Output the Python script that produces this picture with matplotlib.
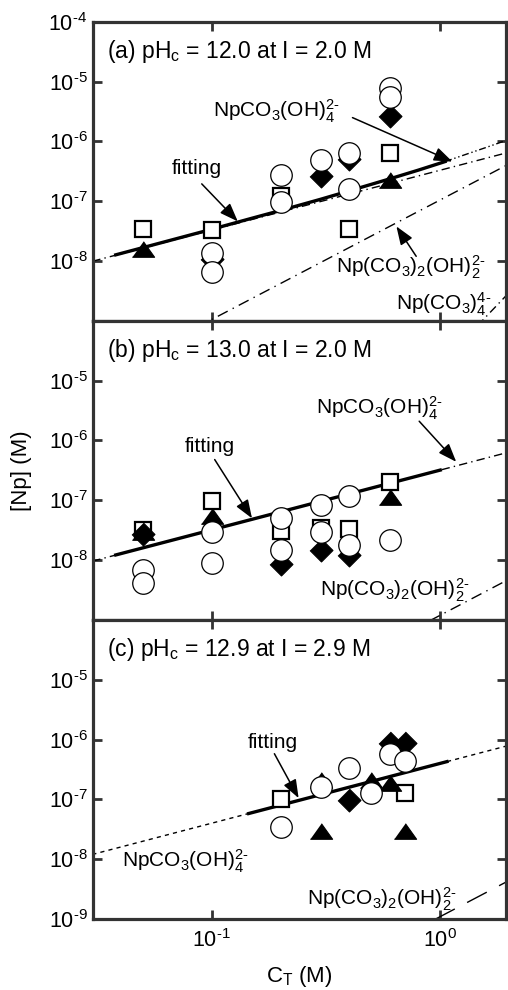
import math
import matplotlib
matplotlib.use('Agg')
import matplotlib.pyplot as plt
from matplotlib.ticker import FixedLocator, NullLocator, FuncFormatter

plt.rcParams['font.family'] = ['Liberation Sans', 'DejaVu Sans']
plt.rcParams['mathtext.fontset'] = 'custom'
plt.rcParams['mathtext.rm'] = 'Liberation Sans'
plt.rcParams['mathtext.it'] = 'Liberation Sans'
plt.rcParams['mathtext.bf'] = 'Liberation Sans:bold'
plt.rcParams['mathtext.sf'] = 'Liberation Sans'

# (a) pHc = 12.0, I = 2.0 M
a_sq_ct = [0.05, 0.1, 0.2, 0.4, 0.6]
a_sq_np = [3.4e-8, 3.3e-8, 1.2e-7, 3.4e-8, 6.3e-7]
a_tri_ct = [0.05, 0.6]
a_tri_np = [1.6e-8, 2.3e-7]
a_dia_ct = [0.1, 0.3, 0.4, 0.6]
a_dia_np = [1.07e-8, 2.6e-7, 5.0e-7, 2.7e-6]
a_cir_ct = [0.1, 0.1, 0.2, 0.2, 0.3, 0.4, 0.4, 0.6, 0.6]
a_cir_np = [1.35e-8, 6.6e-9, 2.75e-7, 9.8e-8, 4.8e-7, 6.3e-7, 1.6e-7, 7.7e-6, 5.5e-6]

# (b) pHc = 13.0, I = 2.0 M
b_sq_ct = [0.05, 0.1, 0.2, 0.3, 0.4, 0.6]
b_sq_np = [3.2e-8, 9.8e-8, 3.1e-8, 3.5e-8, 3.3e-8, 2.0e-7]
b_tri_ct = [0.05, 0.1, 0.6]
b_tri_np = [3.0e-8, 5.5e-8, 1.15e-7]
b_dia_ct = [0.05, 0.2, 0.3, 0.4]
b_dia_np = [2.7e-8, 8.5e-9, 1.5e-8, 1.2e-8]
b_cir_ct = [0.05, 0.05, 0.1, 0.1, 0.2, 0.2, 0.3, 0.3, 0.4, 0.4, 0.6]
b_cir_np = [6.8e-9, 4.1e-9, 3.0e-8, 8.9e-9, 5.1e-8, 1.5e-8, 8.3e-8, 3.0e-8, 1.2e-7, 1.8e-8, 2.2e-8]

# (c) pHc = 12.9, I = 2.9 M
c_sq_ct = [0.2, 0.7]
c_sq_np = [1.0e-7, 1.3e-7]
c_tri_ct = [0.3, 0.3, 0.5, 0.6, 0.7]
c_tri_np = [3.0e-8, 2.1e-7, 2.1e-7, 1.9e-7, 3.0e-8]
c_dia_ct = [0.4, 0.6, 0.7]
c_dia_np = [9.6e-8, 8.9e-7, 8.9e-7]
c_cir_ct = [0.2, 0.3, 0.4, 0.5, 0.6, 0.7]
c_cir_np = [3.4e-8, 1.6e-7, 3.3e-7, 1.26e-7, 5.8e-7, 4.4e-7]

# model curves
line_ct = [0.03, 2.0]
a_mono = [9.9e-9, 6.6e-7]
a_bis = [9.5e-11, 4.2e-7]
a_tetra_ct = [1.0, 2.0]
a_tetra = [1.85e-10, 2.96e-9]
a_fit_ct = [0.038, 0.06, 0.1, 0.15, 0.2, 0.3, 0.4, 0.6, 0.8, 1.05]
a_fit_np = [1.27e-8, 2.02e-8, 3.4e-8, 5.2e-8, 7.0e-8, 1.08e-7, 1.49e-7, 2.36e-7, 3.3e-7, 4.6e-7]
a_fit_ext_ct = [1.05, 1.3, 1.6, 2.0]
a_fit_ext_np = [4.6e-7, 6.1e-7, 8.0e-7, 1.08e-6]

b_mono = [9.6e-9, 6.4e-7]
b_fit_ct = [0.038, 1.0]
b_fit_np = [1.22e-8, 3.2e-7]
b_bis_ct = [0.9, 2.0]
b_bis = [9.7e-10, 4.8e-9]

c_mono = [1.2e-8, 8.0e-7]
c_fit_ct = [0.145, 1.07]
c_fit_np = [5.8e-8, 4.28e-7]
c_bis_ct = [0.95, 2.0]
c_bis = [9.9e-10, 4.4e-9]

ink = '#333333'
tri = [(-1, -0.7), (1, -0.7), (0, 0.7)]
dia = [(0, 1), (1, 0), (0, -1), (-1, 0)]
hy = '\u2010'  # short hyphen for charges / exponents

mono_lbl = r'NpCO$_3$(OH)$_4^{2%s}$' % hy
bis_lbl = r'Np(CO$_3$)$_2$(OH)$_2^{2%s}$' % hy
tetra_lbl = r'Np(CO$_3$)$_4^{4%s}$' % hy


def points(ax, sq, tr, di, ci):
    ax.plot(*sq, ls='none', marker='s', ms=12, mfc='white', mec='black', mew=1.6, zorder=3)
    ax.plot(*tr, ls='none', marker=tri, ms=16, mfc='black', mec='black', mew=0.8, zorder=4)
    ax.plot(*di, ls='none', marker=dia, ms=16.5, mfc='black', mec='black', mew=0.8, zorder=4)
    ax.plot(*ci, ls='none', marker='o', ms=15.5, mfc='white', mec='black', mew=0.9, zorder=5)


def arrow(ax, tail, tip):
    ax.annotate('', xy=tip, xytext=tail,
                arrowprops=dict(arrowstyle='-|>,head_length=0.8,head_width=0.3',
                                color='black', lw=1.1, mutation_scale=14,
                                shrinkA=0, shrinkB=0), zorder=6)


fig, axes = plt.subplots(3, 1, figsize=(5.08, 9.90), dpi=100, sharex=True)
fig.subplots_adjust(left=0.183, right=0.996, top=0.978, bottom=0.0717, hspace=0)
ax_a, ax_b, ax_c = axes

# panel (a)
ax_a.plot(line_ct, a_mono, color='black', lw=1.0, ls=(0, (6, 3, 1, 3)), zorder=2)
ax_a.plot(line_ct, a_bis, color='black', lw=1.0, ls=(0, (8, 4, 1, 4)), zorder=2)
ax_a.plot(a_tetra_ct, a_tetra, color='black', lw=1.0, ls=(0, (6, 3, 1, 3)), zorder=2)
ax_a.plot(a_fit_ct, a_fit_np, color='black', lw=2.4, zorder=2)
ax_a.plot(a_fit_ext_ct, a_fit_ext_np, color='black', lw=1.0, ls=(0, (5, 2, 1, 2, 1, 2)), zorder=2)
points(ax_a, (a_sq_ct, a_sq_np), (a_tri_ct, a_tri_np), (a_dia_ct, a_dia_np), (a_cir_ct, a_cir_np))
ax_a.text(0.034, 0.88, r'(a) pH$_\mathregular{c}$ = 12.0 at I = 2.0 M', transform=ax_a.transAxes,
          fontsize=16.5, va='baseline', ha='left')
ax_a.text(0.101, 2.5e-6, mono_lbl, fontsize=15, va='baseline')
arrow(ax_a, (0.413, 2.5e-6), (1.13, 4.6e-7))
ax_a.text(0.0668, 2.87e-7, 'fitting', fontsize=15, va='baseline')
arrow(ax_a, (0.0904, 1.95e-7), (0.130, 4.6e-8))
ax_a.text(0.351, 6.2e-9, bis_lbl, fontsize=15, va='baseline')
arrow(ax_a, (0.785, 1.2e-8), (0.643, 3.8e-8))
ax_a.text(0.643, 1.53e-9, tetra_lbl, fontsize=15, va='baseline')

# panel (b)
ax_b.plot(line_ct, b_mono, color='black', lw=1.0, ls=(0, (6, 3, 1, 3)), zorder=2)
ax_b.plot(b_fit_ct, b_fit_np, color='black', lw=2.4, zorder=2)
ax_b.plot(b_bis_ct, b_bis, color='black', lw=1.0, ls=(0, (8, 4, 1, 4)), zorder=2)
points(ax_b, (b_sq_ct, b_sq_np), (b_tri_ct, b_tri_np), (b_dia_ct, b_dia_np), (b_cir_ct, b_cir_np))
ax_b.text(0.034, 0.88, r'(b) pH$_\mathregular{c}$ = 13.0 at I = 2.0 M', transform=ax_b.transAxes,
          fontsize=16.5, va='baseline', ha='left')
ax_b.text(0.285, 2.74e-6, mono_lbl, fontsize=15, va='baseline')
arrow(ax_b, (0.809, 2.1e-6), (1.175, 4.4e-7))
ax_b.text(0.0762, 6.5e-7, 'fitting', fontsize=15, va='baseline')
arrow(ax_b, (0.103, 4.8e-7), (0.150, 5.0e-8))
ax_b.text(0.299, 2.5e-9, bis_lbl, fontsize=15, va='baseline')

# panel (c)
ax_c.plot(line_ct, c_mono, color='black', lw=1.0, ls=(0, (3, 3)), zorder=2)
ax_c.plot(c_fit_ct, c_fit_np, color='black', lw=2.4, zorder=2)
ax_c.plot(c_bis_ct, c_bis, color='black', lw=1.0, ls=(0, (16, 10)), zorder=2)
points(ax_c, (c_sq_ct, c_sq_np), (c_tri_ct, c_tri_np), (c_dia_ct, c_dia_np), (c_cir_ct, c_cir_np))
ax_c.text(0.034, 0.88, r'(c) pH$_\mathregular{c}$ = 12.9 at I = 2.9 M', transform=ax_c.transAxes,
          fontsize=16.5, va='baseline', ha='left')
ax_c.text(0.1436, 7.1e-7, 'fitting', fontsize=15, va='baseline')
arrow(ax_c, (0.188, 5.8e-7), (0.24, 1.05e-7))
ax_c.text(0.0405, 7.4e-9, mono_lbl, fontsize=15, va='baseline')
ax_c.text(0.26, 1.7e-9, bis_lbl, fontsize=15, va='baseline')

yticks = {ax_a: [1e-8, 1e-7, 1e-6, 1e-5, 1e-4],
          ax_b: [1e-8, 1e-7, 1e-6, 1e-5],
          ax_c: [1e-9, 1e-8, 1e-7, 1e-6, 1e-5]}


def pow_label(v, pos):
    e = round(math.log10(v))
    sign = hy if e < 0 else ''
    return r'$\mathregular{10^{%s%d}}$' % (sign, abs(e))


for ax in axes:
    ax.set_xscale('log')
    ax.set_yscale('log')
    ax.set_xlim(0.0302, 1.94)
    ax.set_ylim(1e-9, 1e-4)
    ax.xaxis.set_major_locator(FixedLocator([0.1, 1.0]))
    ax.xaxis.set_minor_locator(NullLocator())
    ax.yaxis.set_major_locator(FixedLocator(yticks[ax]))
    ax.yaxis.set_minor_locator(NullLocator())
    ax.xaxis.set_major_formatter(FuncFormatter(pow_label))
    ax.yaxis.set_major_formatter(FuncFormatter(pow_label))
    ax.tick_params(which='major', direction='in', top=True, right=True, length=6.5,
                   width=2.0, color=ink, labelsize=15.5)
    ax.tick_params(axis='y', pad=4)
    ax.tick_params(axis='x', pad=7)
    for s in ax.spines.values():
        s.set_linewidth(2.3)
        s.set_color(ink)

fig.text(0.043, 0.525, '[Np] (M)', rotation=90, fontsize=16, ha='center', va='center')
fig.text(0.59, 0.008, r'C$_\mathregular{T}$ (M)', fontsize=16, ha='center', va='baseline')

fig.savefig('out.png', dpi=100)
